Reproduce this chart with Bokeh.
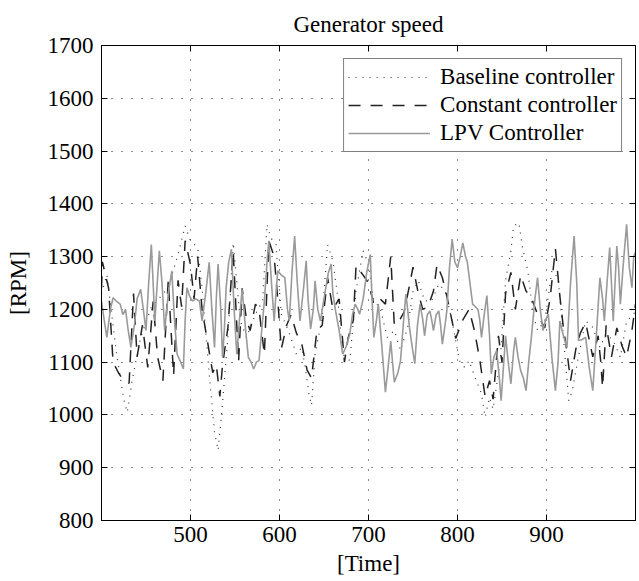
from bokeh.plotting import figure
from bokeh.models import Range1d, LinearAxis, Legend, LegendItem
from bokeh.embed import file_html
from bokeh.resources import INLINE

FONT = "Liberation Serif"

title_text = "Generator speed"
x_label = "[Time]"
y_label = "[RPM]"
x_ticks = [500, 600, 700, 800, 900]
y_ticks = [800, 900, 1000, 1100, 1200, 1300, 1400, 1500, 1600, 1700]
series_names = ["Baseline controller", "Constant controller", "LPV Controller"]

baseline_t = [400, 406, 417, 425, 429, 435, 444, 456, 475, 486, 494, 500, 508, 513, 521, 527, 531, 535,
              542, 548, 556, 563, 573, 581, 586, 590, 596, 602, 610, 619, 625, 629, 633, 636, 640, 648,
              654, 660, 665, 671, 679, 686, 694, 700, 706, 713, 721, 729, 736, 744, 750, 756, 763, 771,
              779, 786, 794, 802, 808, 813, 821, 827, 831, 836, 840, 848, 854, 860, 863, 869, 873, 879,
              885, 890, 898, 906, 913, 919, 925, 929, 935, 944, 952, 960, 967, 975, 983, 990, 998, 1000]
baseline_v = [1230, 1266, 1115, 1030, 1005, 1071, 1147, 1204, 1241, 1304, 1358, 1330, 1317, 1241, 1078, 967, 933, 1002,
              1147, 1326, 1178, 1147, 1191, 1216, 1361, 1336, 1323, 1191, 1160, 1115, 1128, 1090, 1040, 1018, 1115, 1185,
              1323, 1292, 1229, 1115, 1103, 1235, 1311, 1285, 1216, 1204, 1147, 1160, 1122, 1166, 1235, 1254, 1216, 1216,
              1248, 1235, 1178, 1103, 1090, 1103, 1065, 1040, 996, 1033, 1011, 1103, 1254, 1311, 1358, 1364, 1317, 1273,
              1191, 1160, 1178, 1273, 1260, 1147, 1027, 1046, 1103, 1178, 1166, 1128, 1153, 1141, 1109, 1178, 1191, 1200]

constant_t = [400, 401, 408, 413, 419, 425, 431, 436, 440, 446, 452, 458, 463, 469, 475, 481, 486, 490, 494, 500,
              504, 508, 513, 519, 525, 529, 533, 536, 542, 548, 554, 558, 563, 567, 573, 577, 583, 588, 594, 598,
              602, 608, 613, 619, 625, 631, 636, 642, 648, 654, 660, 667, 673, 677, 683, 686, 694, 700, 706, 713,
              719, 725, 729, 735, 740, 746, 750, 756, 761, 767, 773, 777, 783, 788, 798, 806, 813, 819, 825, 831,
              836, 840, 846, 850, 854, 860, 865, 871, 877, 883, 890, 898, 904, 910, 915, 919, 923, 927, 933, 938,
              944, 952, 958, 961, 963, 967, 973, 979, 985, 990, 996, 1000]
constant_v = [1240, 1290, 1240, 1100, 1080, 1065, 1060, 1230, 1110, 1170, 1090, 1215, 1110, 1065, 1255, 1075, 1255, 1205, 1330, 1285,
              1220, 1300, 1200, 1140, 1080, 1095, 1035, 1095, 1165, 1310, 1100, 1240, 1180, 1160, 1210, 1200, 1115, 1330, 1300, 1220,
              1125, 1170, 1190, 1155, 1135, 1085, 1070, 1160, 1170, 1260, 1200, 1220, 1100, 1145, 1180, 1283, 1265, 1250, 1210, 1220,
              1210, 1300, 1170, 1180, 1195, 1245, 1280, 1230, 1200, 1205, 1235, 1285, 1260, 1225, 1145, 1180, 1200, 1160, 1105, 1035,
              1065, 1030, 1150, 1100, 1230, 1270, 1200, 1265, 1235, 1222, 1190, 1165, 1220, 1315, 1225, 1165, 1120, 1065, 1125, 1155,
              1175, 1110, 1150, 1100, 1052, 1170, 1110, 1165, 1130, 1110, 1160, 1210]

lpv_t = [400, 403, 406, 410, 413, 417, 421, 424, 427, 430, 433, 437, 440, 444, 447, 450, 453, 456, 458, 460,
         463, 465, 468, 471, 475, 479, 482, 485, 489, 492, 494, 496, 499, 502, 506, 510, 513, 517, 521, 524,
         527, 529, 531, 534, 536, 538, 540, 543, 546, 549, 552, 555, 558, 562, 565, 568, 571, 574, 577, 580,
         583, 586, 588, 591, 594, 596, 598, 602, 606, 609, 611, 614, 617, 620, 623, 627, 630, 632, 635, 638,
         640, 643, 646, 649, 652, 655, 658, 660, 663, 667, 671, 675, 679, 682, 685, 688, 690, 694, 698, 702,
         704, 706, 709, 711, 715, 719, 722, 725, 727, 729, 733, 736, 739, 742, 744, 746, 749, 752, 755, 758,
         761, 763, 766, 769, 771, 773, 776, 779, 781, 783, 786, 788, 791, 794, 797, 800, 803, 806, 809, 811,
         814, 817, 820, 823, 825, 827, 830, 833, 836, 838, 841, 844, 847, 849, 852, 854, 857, 860, 863, 865,
         868, 871, 874, 877, 880, 883, 887, 890, 893, 896, 899, 902, 906, 910, 913, 915, 919, 923, 927, 931,
         934, 936, 940, 944, 948, 952, 956, 960, 963, 965, 968, 971, 973, 975, 977, 979, 981, 983, 986, 990,
         993, 996, 998, 1000]
lpv_v = [1215, 1180, 1147, 1200, 1222, 1215, 1210, 1190, 1200, 1160, 1128, 1170, 1220, 1238, 1200, 1160, 1250, 1323, 1250, 1178,
         1260, 1311, 1250, 1160, 1230, 1273, 1180, 1115, 1100, 1087, 1180, 1241, 1225, 1216, 1220, 1216, 1178, 1230, 1289, 1200,
         1128, 1220, 1286, 1200, 1109, 1160, 1241, 1290, 1314, 1200, 1115, 1180, 1238, 1160, 1109, 1100, 1087, 1100, 1103, 1160,
         1216, 1290, 1330, 1250, 1178, 1230, 1273, 1265, 1260, 1200, 1178, 1270, 1339, 1250, 1178, 1240, 1292, 1220, 1163, 1200,
         1254, 1200, 1178, 1210, 1241, 1270, 1286, 1230, 1197, 1160, 1115, 1130, 1153, 1190, 1210, 1200, 1191, 1220, 1270, 1304,
         1220, 1147, 1180, 1210, 1130, 1043, 1090, 1140, 1100, 1062, 1080, 1103, 1170, 1229, 1200, 1166, 1130, 1097, 1170, 1210,
         1180, 1150, 1190, 1197, 1180, 1160, 1190, 1197, 1170, 1134, 1170, 1197, 1280, 1333, 1290, 1279, 1300, 1326, 1300, 1290,
         1250, 1210, 1205, 1200, 1180, 1147, 1190, 1226, 1150, 1078, 1110, 1122, 1070, 1027, 1100, 1150, 1100, 1059, 1120, 1147,
         1110, 1084, 1070, 1046, 1100, 1147, 1220, 1260, 1200, 1160, 1180, 1191, 1110, 1046, 1100, 1178, 1150, 1128, 1250, 1339,
         1250, 1141, 1143, 1147, 1090, 1046, 1150, 1260, 1220, 1178, 1250, 1317, 1250, 1178, 1250, 1320, 1280, 1210, 1280, 1361,
         1280, 1241, 1300, 1308]

p = figure(width=639, height=581, output_backend="svg", toolbar_location=None,
           x_range=Range1d(400, 1000), y_range=Range1d(800, 1700),
           min_border_left=101, min_border_right=4, min_border_top=45, min_border_bottom=61,
           background_fill_color="white", border_fill_color="white")

p.title.text = title_text
p.title.text_font = FONT
p.title.text_font_size = "23px"
p.title.text_font_style = "normal"
p.title.align = "center"
p.title.text_color = "black"
p.title.standoff = 18

p.outline_line_color = "black"
p.outline_line_width = 1

for ax in (p.xaxis[0], p.yaxis[0]):
    ax.major_tick_in = 6
    ax.major_tick_out = 0
    ax.minor_tick_line_color = None
    ax.axis_line_color = "black"
    ax.major_tick_line_color = "black"
    ax.major_label_text_font = FONT
    ax.major_label_text_font_size = "23px"
    ax.major_label_text_color = "black"
    ax.axis_label_text_font = FONT
    ax.axis_label_text_font_size = "23px"
    ax.axis_label_text_font_style = "normal"
    ax.axis_label_text_color = "black"

p.xaxis[0].ticker = x_ticks
p.yaxis[0].ticker = y_ticks
p.xaxis[0].axis_label = x_label
p.yaxis[0].axis_label = y_label
p.xaxis[0].major_label_standoff = 6
p.xaxis[0].axis_label_standoff = 6
p.yaxis[0].major_label_standoff = 8
p.yaxis[0].axis_label_standoff = 14

for loc, ticks in (("right", y_ticks), ("above", x_ticks)):
    ax = LinearAxis(ticker=ticks, major_tick_in=6, major_tick_out=0,
                    minor_tick_line_color=None, axis_line_color="black",
                    major_label_text_font_size="1px", major_label_text_color=None,
                    major_label_standoff=0)
    p.add_layout(ax, loc)

for g in (p.xgrid[0], p.ygrid[0]):
    g.grid_line_color = "black"
    g.grid_line_dash = "1 9"
    g.grid_line_width = 1
    g.grid_line_alpha = 0.9
p.xgrid[0].ticker = x_ticks
p.ygrid[0].ticker = y_ticks

r_base = p.line(baseline_t, baseline_v, line_color="#333333", line_width=1.2, line_dash="1 6")
r_const = p.line(constant_t, constant_v, line_color="#222222", line_width=1.5, line_dash="12 10")
r_lpv = p.line(lpv_t, lpv_v, line_color="#9a9a9a", line_width=1.6)

legend = Legend(items=[LegendItem(label=series_names[0], renderers=[r_base]),
                       LegendItem(label=series_names[1], renderers=[r_const]),
                       LegendItem(label=series_names[2], renderers=[r_lpv])],
                location="top_right", margin=13, padding=4, spacing=0,
                glyph_width=82, glyph_height=28, label_height=28, label_standoff=10,
                label_text_font=FONT, label_text_font_size="23px", label_text_color="black",
                border_line_color="black", border_line_width=1,
                background_fill_color="white", background_fill_alpha=1)
p.add_layout(legend)

open("out.html", "w").write(file_html(p, INLINE))
